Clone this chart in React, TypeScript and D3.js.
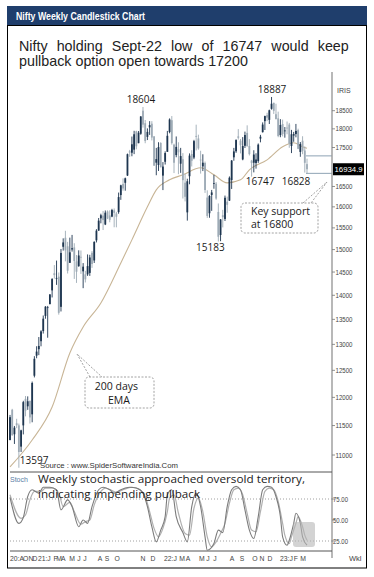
import React from 'react';
import * as d3 from 'd3';

// Weekly OHLC, Nifty, from week of 24-Aug-2020 to week of 20-Mar-2023
const candles: [number, number, number, number][] = [
  [11250, 11686, 11250, 11647], [11777, 11794, 11325, 11333], [11350, 11493, 11185, 11464], [11540, 11618, 11455, 11505],
  [11503, 11535, 10790, 11050], [11140, 11428, 11050, 11417], [11503, 11938, 11347, 11914], [11973, 12025, 11661, 11762],
  [11839, 12018, 11776, 11930], [11937, 11942, 11535, 11642], [11697, 12290, 11557, 12264], [12399, 12770, 12367, 12720],
  [12780, 12963, 12730, 12859], [12906, 13145, 12790, 12969], [13062, 13280, 12962, 13258], [13264, 13579, 13214, 13514],
  [13571, 13773, 13513, 13761], [13741, 13777, 13131, 13749], [13815, 14024, 13809, 14018],
  // 2021
  [14104, 14367, 13954, 14347], [14474, 14653, 14357, 14433], [14371, 14753, 14222, 14371], [14399, 14491, 13597, 13634],
  [13758, 15014, 13662, 14924], [15064, 15257, 14977, 15163], [15270, 15432, 14736, 14982], [15075, 15176, 14468, 14529],
  [14703, 15273, 14703, 14938], [15003, 15336, 14954, 15031], [15049, 15145, 14350, 14744], [14737, 14878, 14264, 14507],
  [14628, 14984, 14617, 14867], [14837, 14980, 14459, 14834], [14516, 14697, 14151, 14618], [14449, 14527, 14273, 14341],
  [14449, 14891, 14416, 14631], [14481, 14882, 14416, 14823], [14928, 14967, 14591, 14677], [14756, 15190, 14700, 15175],
  [15211, 15469, 15163, 15435], [15437, 15733, 15430, 15670], [15725, 15835, 15607, 15799], [15791, 15901, 15450, 15683],
  [15580, 15913, 15565, 15860], [15890, 15915, 15707, 15722], [15794, 15916, 15632, 15690], [15766, 15952, 15752, 15923],
  [15915, 15962, 15514, 15856], [15842, 15880, 15513, 15763], [15874, 16349, 15834, 16238], [16287, 16543, 16170, 16529],
  [16563, 16702, 16395, 16450], [16592, 16722, 16395, 16705], [16775, 17340, 16764, 17324], [17399, 17437, 17255, 17369],
  [17363, 17792, 17270, 17585], [17443, 17947, 17326, 17853], [17932, 17948, 17452, 17532], [17615, 17941, 17613, 17895],
  [17867, 18350, 17840, 18339], [18500, 18604, 18034, 18115], [18154, 18242, 17613, 17672], [17783, 18012, 17698, 17917],
  [18040, 18210, 17836, 18102], [18140, 18210, 17688, 17765], [17796, 17805, 17026, 17026], [17104, 17490, 16782, 17197],
  [17044, 17640, 16891, 17511], [17619, 17640, 16984, 16985], [16773, 17118, 16410, 17003], [17127, 17400, 17055, 17354],
  // 2022
  [17387, 17944, 17383, 17812], [17913, 18286, 17880, 18256], [18236, 18351, 17576, 17617], [17575, 17600, 16837, 17102],
  [17301, 17794, 17244, 17516], [17456, 17639, 16809, 17374], [17077, 17490, 16843, 17276], [17192, 17352, 16203, 16658],
  [16594, 16815, 16132, 16245], [15867, 16694, 15671, 16630], [16757, 17345, 16555, 17287], [17329, 17429, 17006, 17153],
  [17237, 17703, 17194, 17670], [17809, 18114, 17422, 17784], [17741, 17842, 17442, 17476], [17183, 17414, 16824, 17172],
  [17009, 17322, 16888, 17103], [17096, 17132, 16340, 16411], [16227, 16404, 15735, 15782], [15846, 16284, 15739, 16266],
  [16290, 16414, 15903, 16352], [16578, 16793, 16444, 16584], [16570, 16610, 16172, 16202], [15877, 16082, 15183, 15294],
  [15334, 15707, 15191, 15699], [15800, 15928, 15511, 15752], [15710, 16275, 15662, 16221], [16126, 16249, 15858, 16049],
  [16151, 16752, 16142, 16719], [16662, 17172, 16438, 17158], [17243, 17490, 17154, 17397], [17401, 17719, 17359, 17698],
  [17797, 17992, 17710, 17758], [17682, 17726, 17345, 17559], [17188, 17777, 17166, 17539], [17546, 17925, 17487, 17833],
  [17890, 18096, 17531, 17531], [17540, 17723, 17291, 17327], [17156, 17176, 16747, 17094], [17102, 17428, 16855, 17315],
  [17094, 17348, 16950, 17186], [17144, 17607, 17098, 17576], [17736, 17838, 17637, 17787], [17910, 18176, 17900, 18117],
  [18211, 18362, 17969, 18350], [18377, 18442, 18210, 18308], [18246, 18529, 18133, 18512], [18552, 18887, 18530, 18696],
  [18719, 18728, 18410, 18497], [18402, 18696, 18255, 18269], [18288, 18473, 17774, 17807], [17831, 18265, 17774, 18105],
  // 2023
  [18131, 18252, 17796, 17859], [17953, 18049, 17761, 17956], [18033, 18201, 17853, 18027], [18118, 18162, 17493, 17604],
  [17541, 17972, 17353, 17854], [17818, 17917, 17652, 17856], [17859, 18134, 17771, 17944], [17965, 18004, 17455, 17466],
  [17383, 17644, 17256, 17594], [17680, 17800, 17324, 17413], [17421, 17529, 16850, 17100], [17066, 17207, 16828, 16934.9],
];

// 200-day EMA: [week index, value]
const ema: [number, number][] = [
  [0, 10803], [10, 11252], [19, 11827], [27, 12832], [33, 13347], [41, 13839], [50, 14700], [55, 15222],
  [62, 16000], [66, 16415], [72, 16666], [78, 16793], [86, 16972], [92, 16793], [98, 16590], [104, 16666],
  [108, 16920], [116, 17177], [123, 17520], [128, 17626], [132, 17520], [134, 17480],
];

// Weekly stochastic %K and %D: [week index, value]
const stochK: [number, number][] = [
  [0, 77], [4, 46], [6, 53], [8, 78], [10, 86], [13, 82], [15, 89], [18, 89], [21, 86], [23, 62], [26, 74], [28, 66],
  [31, 42], [33, 50], [35, 46], [37, 66], [40, 86], [42, 89], [45, 86], [47, 82], [50, 86], [52, 88], [54, 89], [57, 88],
  [60, 82], [62, 66], [64, 42], [66, 24], [68, 38], [70, 54], [71, 80], [73, 86], [75, 54], [78, 35], [80, 24], [82, 66],
  [84, 82], [86, 66], [88, 30], [89, 14], [92, 22], [94, 38], [96, 35], [98, 66], [100, 86], [102, 90], [104, 86],
  [106, 62], [108, 38], [110, 28], [112, 54], [114, 86], [116, 90], [118, 89], [120, 78], [122, 54], [123, 30],
  [125, 20], [126, 26], [128, 46], [129, 58], [131, 46], [132, 30], [134, 20],
];
const stochD: [number, number][] = [
  [0, 80], [5, 52], [7, 56], [9, 74], [11, 84], [14, 84], [16, 88], [19, 88], [22, 82], [24, 66], [27, 71], [29, 60],
  [32, 45], [34, 48], [36, 50], [38, 68], [41, 84], [43, 88], [46, 85], [48, 83], [51, 86], [53, 88], [55, 89], [58, 87],
  [61, 78], [63, 60], [65, 40], [67, 30], [69, 40], [71, 60], [72, 76], [74, 80], [76, 58], [79, 34], [81, 32], [83, 64],
  [85, 76], [87, 60], [89, 30], [91, 18], [93, 24], [95, 34], [97, 46], [99, 70], [101, 86], [103, 88], [105, 80],
  [107, 58], [109, 38], [111, 36], [113, 60], [115, 84], [117, 88], [119, 86], [121, 72], [123, 46], [124, 32],
  [126, 22], [127, 30], [129, 46], [130, 54], [132, 42], [133, 32], [134, 26],
];

const priceTicks = d3.range(11000, 18501, 500);
const stochTicks = [75, 50, 25];
const stochLevels = [75, 25];
const refLevels = [17280, 16830];

// x-axis labels: [week index, label]
const xLabels: [number, string][] = [
  [0, '20:A'], [7.1, 'O'], [9.5, 'N'], [11.3, 'D'], [12.6, '21:J'], [20.6, 'F'], [22.2, 'M'], [24, 'A'],
  [28, 'M'], [31.1, 'J'], [33.8, 'J'], [40.6, 'A'], [43.8, 'S'], [48.3, 'O'], [60, 'N'], [64.5, 'D'],
  [69.5, '22:J'], [77.6, 'M'], [80.3, 'A'], [86.6, 'M'], [89.3, 'J'], [92.5, 'J'], [100.2, 'A'], [104.7, 'S'],
  [110.5, 'O'], [113.7, 'N'], [117.3, 'D'], [121.8, '23:J'], [129, 'F'], [132.2, 'M'],
];

// swing labels: [week index, price, text]
const swings: [number, number, string][] = [
  [60, 18604, '18604'], [118, 18887, '18887'], [94, 15183, '15183'], [109, 16747, '16747'], [134, 16828, '16828'],
  [4, 10790, '13597'],
];
const swingOffsets: [number, number, string][] = [
  [-2, -4, 'middle'], [0.5, -4, 'middle'], [-8, 9.5, 'middle'], [8.5, 8.5, 'middle'], [-11, 11.5, 'middle'],
  [1, -4, 'start'],
];

const TITLE1 = 'Nifty holding Sept-22 low of 16747 would keep';
const TITLE2 = 'pullback option open towards 17200';
const HEADER = 'Nifty Weekly Candlestick Chart';

export default function App() {
  const x = d3.scaleLinear().domain([0, candles.length - 1]).range([10, 307]);
  const y = d3.scaleLog().domain([11000, 18500]).range([455, 110.7]);
  const ys = d3.scaleLinear().domain([0, 100]).range([562, 478]);

  const emaLine = d3.line<[number, number]>().x(d => x(d[0])).y(d => y(d[1])).curve(d3.curveMonotoneX);
  const stLine = d3.line<[number, number]>().x(d => x(d[0])).y(d => ys(d[1])).curve(d3.curveMonotoneX);

  const axisX = 332;
  const last = candles[candles.length - 1][3];
  const up = '#1e3650';
  const dn = '#9eabb6';
  const sans = 'Liberation Sans, Arial, sans-serif';
  const cal = 'Open Sans, Noto Sans, sans-serif';
  const shownTicks = priceTicks.filter(t => Math.abs(y(t) - y(last)) > 7);

  return (
    <svg width={374} height={577} style={{ position: 'absolute', left: 0, top: 0, background: '#fff' }}>
      <rect x={0} y={0} width={374} height={577} fill="#fff" />
      {/* header */}
      <rect x={7} y={6} width={360} height={19} fill="#1f3e6c" />
      <text x={16} y={19.5} fill="#fff" fontFamily={sans} fontWeight="bold" fontSize={10.5}
        textLength={129} lengthAdjust="spacingAndGlyphs">{HEADER}</text>
      <rect x={7.5} y={25.5} width={359} height={542.5} fill="none" stroke="#000" strokeWidth={1} />

      {/* title */}
      <text x={19} y={51} fontFamily={sans} fontSize={14.3} fill="#222" wordSpacing={5.1}>{TITLE1}</text>
      <text x={19} y={66} fontFamily={sans} fontSize={14.3} fill="#222">{TITLE2}</text>

      {/* EMA */}
      <path d={emaLine(ema) || ''} fill="none" stroke="#c8b596" strokeWidth={1.1} />

      {/* candles */}
      {candles.map((c, i) => {
        const [o, h, l, cl] = c;
        const col = cl >= o ? up : dn;
        const top = y(Math.max(o, cl));
        const bot = y(Math.min(o, cl));
        return (
          <g key={i}>
            <line x1={x(i)} x2={x(i)} y1={y(h)} y2={y(l)} stroke={col} strokeWidth={0.9} />
            <rect x={x(i) - 0.9} y={top} width={1.8} height={Math.max(0.8, bot - top)} fill={col} />
          </g>
        );
      })}

      {/* reference lines near axis */}
      {refLevels.map((v, i) => (
        <line key={i} x1={306} x2={axisX} y1={y(v)} y2={y(v)} stroke="#8ea3b4" strokeWidth={1} />
      ))}

      {/* swing labels */}
      {swings.map((s, i) => (
        <text key={i} x={x(s[0]) + swingOffsets[i][0]} y={y(s[1]) + swingOffsets[i][1]}
          textAnchor={swingOffsets[i][2] as any} fontFamily={cal} fontSize={10} fill="#1a1a1a">{s[2]}</text>
      ))}

      {/* source */}
      <text x={40} y={468} fontFamily={sans} fontSize={7.5} fill="#333" textLength={138}
        lengthAdjust="spacingAndGlyphs">Source : www.SpiderSoftwareIndia.Com</text>

      {/* annotation: key support */}
      <path d="M303,203 L327,182 L311,203" fill="none" stroke="#8a8a8a" strokeWidth={0.8} strokeDasharray="2,1.5" />
      <rect x={241} y={203} width={77} height={30} rx={4} fill="#fff" stroke="#8a8a8a" strokeWidth={0.8} strokeDasharray="2,1.5" />
      <text x={251} y={215} fontFamily={cal} fontSize={10.5} fill="#1a1a1a">Key  support</text>
      <text x={251} y={228} fontFamily={cal} fontSize={10.5} fill="#1a1a1a">at 16800</text>

      {/* annotation: EMA */}
      <path d="M90,377 L77,354 L102,377" fill="none" stroke="#8a8a8a" strokeWidth={0.8} strokeDasharray="2,1.5" />
      <rect x={85} y={377} width={69} height={31} rx={4} fill="#fff" stroke="#8a8a8a" strokeWidth={0.8} strokeDasharray="2,1.5" />
      <text x={116.5} y={390} textAnchor="middle" fontFamily={cal} fontSize={10.5} fill="#1a1a1a">200 days</text>
      <text x={119} y={404} textAnchor="middle" fontFamily={cal} fontSize={10.5} fill="#1a1a1a">EMA</text>

      {/* price axis */}
      <line x1={axisX} x2={axisX} y1={72} y2={558} stroke="#9a9a9a" strokeWidth={1.4} />
      <text x={337} y={93} fontFamily={sans} fontSize={7} fill="#444">IRIS</text>
      {shownTicks.map(t => (
        <g key={t}>
          <line x1={axisX} x2={axisX + 3} y1={y(t)} y2={y(t)} stroke="#777" strokeWidth={0.8} />
          <text x={axisX + 3.5} y={y(t) + 2.6} fontFamily={sans} fontSize={7.5} fill="#444"
            textLength={17} lengthAdjust="spacingAndGlyphs">{t}</text>
        </g>
      ))}
      <rect x={333} y={y(last) - 6} width={31} height={12} fill="#000" />
      <text x={334.5} y={y(last) + 2.8} fontFamily={sans} fontSize={7.8} fill="#fff">{last.toFixed(1)}</text>

      {/* stoch panel */}
      <line x1={10} x2={axisX} y1={472} y2={472} stroke="#555" strokeWidth={1} />
      <line x1={10} x2={axisX} y1={551} y2={551} stroke="#555" strokeWidth={1} />
      {stochLevels.map(v => (
        <line key={v} x1={10} x2={axisX} y1={ys(v)} y2={ys(v)} stroke="#888" strokeWidth={0.8} strokeDasharray="1,2" />
      ))}
      <path d={stLine(stochD) || ''} fill="none" stroke="#b0b0b0" strokeWidth={1.2} />
      <path d={stLine(stochK) || ''} fill="none" stroke="#7c7c7c" strokeWidth={1.1} />
      <rect x={293} y={522} width={22} height={25} rx={3} fill="#b5b5b5" opacity={0.6} />
      {stochTicks.map(v => (
        <g key={v}>
          <line x1={axisX} x2={axisX + 3} y1={ys(v)} y2={ys(v)} stroke="#777" strokeWidth={0.8} />
          <text x={axisX + 1} y={ys(v) + 2.6} fontFamily={sans} fontSize={7.5} fill="#444"
            textLength={15} lengthAdjust="spacingAndGlyphs">{v.toFixed(2)}</text>
        </g>
      ))}
      <text x={10} y={482} fontFamily={sans} fontSize={7} fill="#5a7ea6">Stoch</text>
      <text x={38} y={483} fontFamily={cal} fontSize={11} fill="#1a1a1a" textLength={267}
        lengthAdjust="spacingAndGlyphs">Weekly stochastic approached oversold territory,</text>
      <text x={38} y={498} fontFamily={cal} fontSize={11} fill="#1a1a1a" textLength={162}
        lengthAdjust="spacingAndGlyphs">indicating impending pullback</text>

      {/* x labels */}
      {xLabels.map((l, i) => (
        <text key={i} x={x(l[0])} y={561} textAnchor={l[1].includes(':') ? 'start' : 'middle'}
          fontFamily={sans} fontSize={6.8} fill="#444">{l[1]}</text>
      ))}
      <text x={349} y={561} fontFamily={sans} fontSize={7.5} fill="#444">Wkl</text>
    </svg>
  );
}
